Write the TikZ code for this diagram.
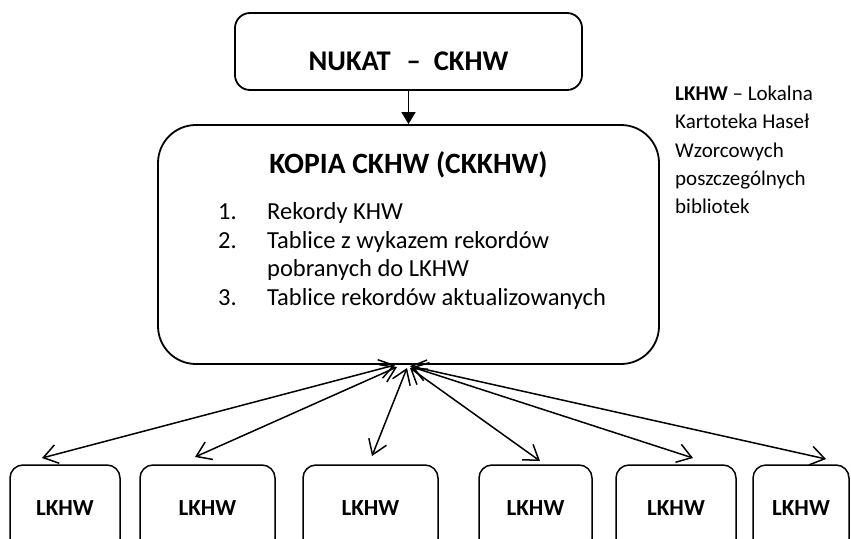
\documentclass[tikz,border=0pt]{standalone}
\usepackage{fontspec}
\setmainfont{Carlito}
\usetikzlibrary{arrows.meta}
\begin{document}
\begin{tikzpicture}[x=1pt,y=-1pt,
  topbox/.style={draw, line width=1.8pt, rounded corners=15pt, inner sep=0pt},
  mainbox/.style={draw, line width=1.8pt, rounded corners=38pt, inner sep=0pt},
  leafbox/.style={draw, line width=1.5pt, rounded corners=13pt, inner sep=0pt, minimum height=87pt,
    font=\fontsize{23}{28}\selectfont\bfseries},
  bigtitle/.style={inner sep=0pt, anchor=base, font=\fontsize{29.5}{35}\selectfont\bfseries},
  item/.style={inner sep=0pt, anchor=base west, font=\fontsize{24.5}{29}\selectfont},
  legend/.style={inner sep=0pt, anchor=base west, font=\fontsize{21}{28}\selectfont},
  link/.style={line width=1.5pt, {Straight Barb[length=14pt,width=19pt]}-{Straight Barb[length=14pt,width=19pt]}},
  feed/.style={line width=1.5pt, -{Triangle[length=12pt,width=14pt]}}
]
\useasboundingbox (0,0) rectangle (851,538);
\begin{scope}
\clip (0,0) rectangle (851,538);
% top box
\node[topbox, minimum width=347pt, minimum height=77pt] (top) at (408.5,51.5) {};
\node[bigtitle, font=\fontsize{28.5}{34}\selectfont\bfseries] (toptext) at (408.5,70) {NUKAT\hspace{16pt}–\hspace{13pt}CKHW};
% main box
\node[mainbox, minimum width=501pt, minimum height=239pt] (main) at (408.5,244.5) {};
\node[bigtitle] (maintitle) at (408.5,173.3) {KOPIA CKHW (CKKHW)};
\node[item] (n1) at (218,219.5) {1.};
\node[item] (i1) at (267,219.5) {Rekordy KHW};
\node[item] (n2) at (218,248) {2.};
\node[item] (i2) at (267,248) {Tablice z wykazem rekordów};
\node[item] (i2b) at (267,276.7) {pobranych do LKHW};
\node[item] (n3) at (218,305) {3.};
\node[item] (i3) at (267,305) {Tablice rekordów aktualizowanych};
% legend
\node[legend] (l1) at (675,100) {\textbf{LKHW} – Lokalna};
\node[legend] (l2) at (675,128.5) {Kartoteka Haseł};
\node[legend] (l3) at (675,157) {Wzorcowych};
\node[legend] (l4) at (675,185.5) {poszczególnych};
\node[legend] (l5) at (675,213.5) {bibliotek};
% leaf boxes
\node[leafbox, minimum width=110pt] (b1) at (65,508.5) {LKHW};
\node[leafbox, minimum width=135pt] (b2) at (207.5,508.5) {LKHW};
\node[leafbox, minimum width=135pt] (b3) at (370.5,508.5) {LKHW};
\node[leafbox, minimum width=113pt] (b4) at (535.5,508.5) {LKHW};
\node[leafbox, minimum width=120pt] (b5) at (676,508.5) {LKHW};
\node[leafbox, minimum width=96pt] (b6) at (801,508.5) {LKHW};
% connector end points
\coordinate (t1) at (395,365); \coordinate (e1) at (42,458);
\coordinate (t2) at (397,367); \coordinate (e2) at (195,457);
\coordinate (t3) at (407,368); \coordinate (e3) at (372,456);
\coordinate (t4) at (410,368); \coordinate (e4) at (540,461);
\coordinate (t5) at (412,367); \coordinate (e5) at (693,458);
\coordinate (t6) at (410,366); \coordinate (e6) at (826,459);
% connectors
\draw[feed] (top.south) -- (main.north);
\draw[link] (t1) -- (e1);
\draw[link] (t2) -- (e2);
\draw[link] (t3) -- (e3);
\draw[link] (t4) -- (e4);
\draw[link] (t5) -- (e5);
\draw[link] (t6) -- (e6);
\end{scope}
\end{tikzpicture}
\end{document}
